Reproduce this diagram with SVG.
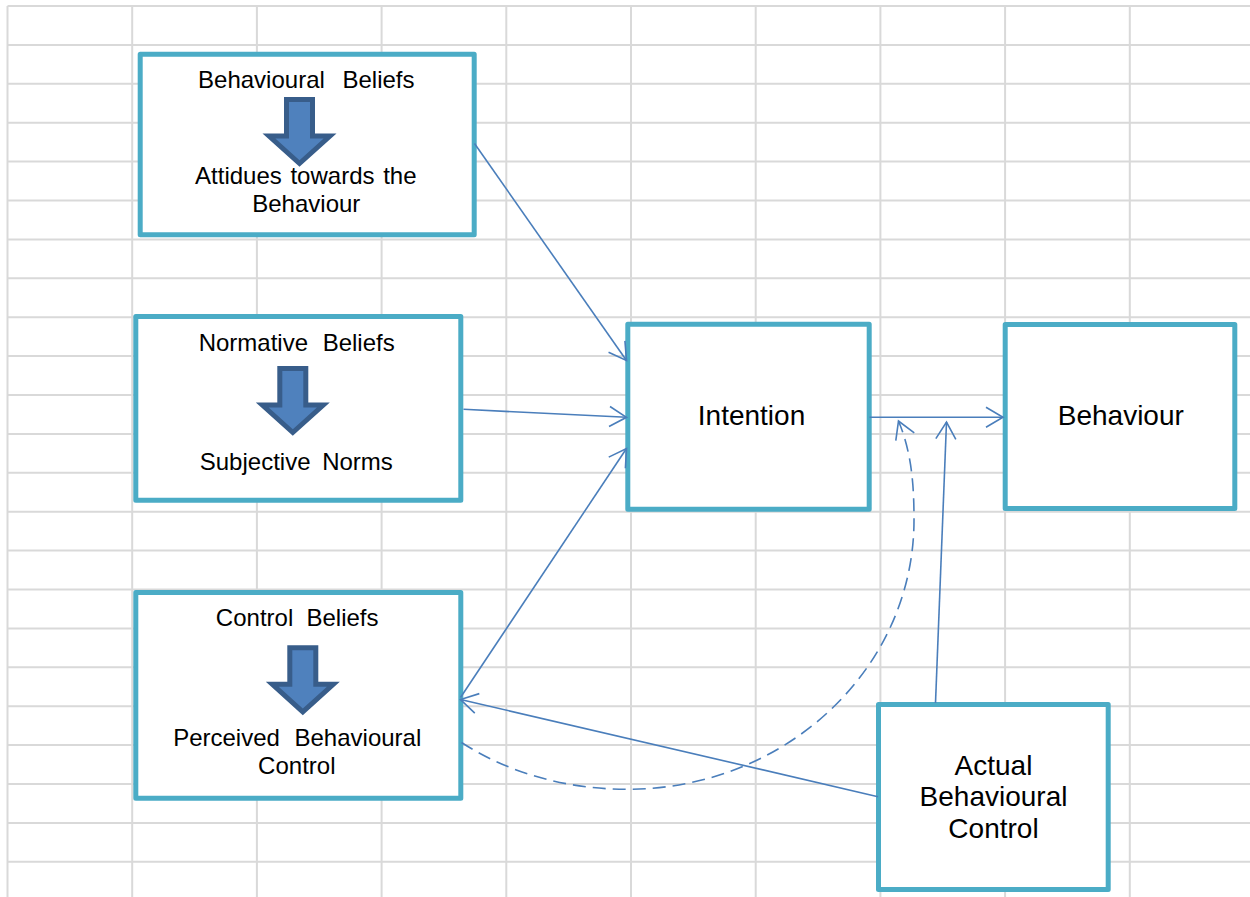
<svg xmlns="http://www.w3.org/2000/svg" width="1250" height="897" viewBox="0 0 1250 897">
<style>
.grid line{stroke:#d9d9d9;stroke-width:2}
.box{fill:#ffffff;stroke:#4bacc6;stroke-width:5;stroke-linejoin:round}
.blk{fill:#4f81bd;stroke:#385d8a;stroke-width:5;stroke-linejoin:miter}
.t{font-family:"Liberation Sans",Arial,sans-serif;font-size:24px;fill:#000;text-anchor:middle}
.tb{font-family:"Liberation Sans",Arial,sans-serif;font-size:28px;fill:#000;text-anchor:middle}
.con{fill:none;stroke:#4a7ebb;stroke-width:1.6}
.dash{stroke-dasharray:13 7}
</style>
<defs>
<marker id="arr" viewBox="-20 -12 22 24" markerWidth="22" markerHeight="24" refX="0" refY="0" orient="auto" markerUnits="userSpaceOnUse">
<path d="M-17,-10 L0,0 L-17,10" fill="none" stroke="#4a7ebb" stroke-width="1.6"/>
</marker>
<path id="blockarrow" d="M-13,2.5 H13 V39 H30.5 L0,66.5 L-30.5,39 H-13 Z"/>
</defs>
<rect x="0" y="0" width="1250" height="897" fill="#ffffff"/>
<g class="grid">
<line x1="7.5" y1="6" x2="7.5" y2="897"/>
<line x1="132.2" y1="6" x2="132.2" y2="897"/>
<line x1="256.9" y1="6" x2="256.9" y2="897"/>
<line x1="381.6" y1="6" x2="381.6" y2="897"/>
<line x1="506.3" y1="6" x2="506.3" y2="897"/>
<line x1="631" y1="6" x2="631" y2="897"/>
<line x1="755.7" y1="6" x2="755.7" y2="897"/>
<line x1="880.4" y1="6" x2="880.4" y2="897"/>
<line x1="1005.1" y1="6" x2="1005.1" y2="897"/>
<line x1="1129.8" y1="6" x2="1129.8" y2="897"/>
<line x1="7.5" y1="6" x2="1250" y2="6"/>
<line x1="7.5" y1="44.9" x2="1250" y2="44.9"/>
<line x1="7.5" y1="83.8" x2="1250" y2="83.8"/>
<line x1="7.5" y1="122.7" x2="1250" y2="122.7"/>
<line x1="7.5" y1="161.6" x2="1250" y2="161.6"/>
<line x1="7.5" y1="200.5" x2="1250" y2="200.5"/>
<line x1="7.5" y1="239.4" x2="1250" y2="239.4"/>
<line x1="7.5" y1="278.3" x2="1250" y2="278.3"/>
<line x1="7.5" y1="317.2" x2="1250" y2="317.2"/>
<line x1="7.5" y1="356.1" x2="1250" y2="356.1"/>
<line x1="7.5" y1="395" x2="1250" y2="395"/>
<line x1="7.5" y1="433.9" x2="1250" y2="433.9"/>
<line x1="7.5" y1="472.8" x2="1250" y2="472.8"/>
<line x1="7.5" y1="511.7" x2="1250" y2="511.7"/>
<line x1="7.5" y1="550.6" x2="1250" y2="550.6"/>
<line x1="7.5" y1="589.5" x2="1250" y2="589.5"/>
<line x1="7.5" y1="628.4" x2="1250" y2="628.4"/>
<line x1="7.5" y1="667.3" x2="1250" y2="667.3"/>
<line x1="7.5" y1="706.2" x2="1250" y2="706.2"/>
<line x1="7.5" y1="745.1" x2="1250" y2="745.1"/>
<line x1="7.5" y1="784" x2="1250" y2="784"/>
<line x1="7.5" y1="822.9" x2="1250" y2="822.9"/>
<line x1="7.5" y1="861.8" x2="1250" y2="861.8"/>
</g>
<g id="node-behavioural-beliefs">
<rect class="box" x="140.2" y="54.2" width="334" height="180.6"/>
<text class="t" x="306.3" y="88" word-spacing="11">Behavioural Beliefs</text>
<use href="#blockarrow" class="blk" transform="translate(299.5,97)"/>
<text class="t" x="305.8" y="183.5" word-spacing="2">Attidues towards the</text>
<text class="t" x="306.3" y="212">Behaviour</text>
</g>
<g id="node-normative-beliefs">
<rect class="box" x="135.8" y="316.5" width="325" height="183.7"/>
<text class="t" x="296.7" y="351" word-spacing="8">Normative Beliefs</text>
<use href="#blockarrow" class="blk" transform="translate(292.8,366)"/>
<text class="t" x="296.3" y="470" word-spacing="5">Subjective Norms</text>
</g>
<g id="node-control-beliefs">
<rect class="box" x="135.8" y="592.5" width="325" height="205.7"/>
<text class="t" x="297.2" y="626" word-spacing="6.6">Control Beliefs</text>
<use href="#blockarrow" class="blk" transform="translate(302.8,645.3)"/>
<text class="t" x="297.2" y="745.7" word-spacing="8">Perceived Behavioural</text>
<text class="t" x="296.8" y="774">Control</text>
</g>
<g id="node-intention">
<rect class="box" x="627.8" y="324.2" width="241.4" height="185"/>
<text class="tb" x="751.5" y="425">Intention</text>
</g>
<g id="node-behaviour">
<rect class="box" x="1005.2" y="324.5" width="229.6" height="184"/>
<text class="tb" x="1120.8" y="425">Behaviour</text>
</g>
<g id="node-actual-behavioural-control">
<rect class="box" x="878.5" y="704.5" width="229.7" height="185"/>
<text class="tb" x="993.5" y="775">Actual</text>
<text class="tb" x="993.5" y="806">Behavioural</text>
<text class="tb" x="993.5" y="838">Control</text>
</g>
<g id="connectors">
<path class="con" d="M474.5,143.5 L626.5,360.5" marker-end="url(#arr)"/>
<path class="con" d="M463.5,409.3 L626.5,417.3" marker-end="url(#arr)"/>
<path class="con" d="M460.5,697.5 L626.5,448.5" marker-end="url(#arr)"/>
<path class="con" d="M878,796.7 L460.5,699.5" marker-end="url(#arr)"/>
<path class="con" d="M869.5,417.3 L1003,417.3" marker-end="url(#arr)"/>
<path class="con" d="M935.5,703 L946.5,422" marker-end="url(#arr)"/>
<path class="con dash" d="M461.5,742.5 C509.6,773.8 568.5,789.3 627,789.3 C785.5,789.3 914,668.6 914,520 C914,485.9 911.9,453.2 898.5,421" marker-end="url(#arr)"/>
</g>
</svg>
